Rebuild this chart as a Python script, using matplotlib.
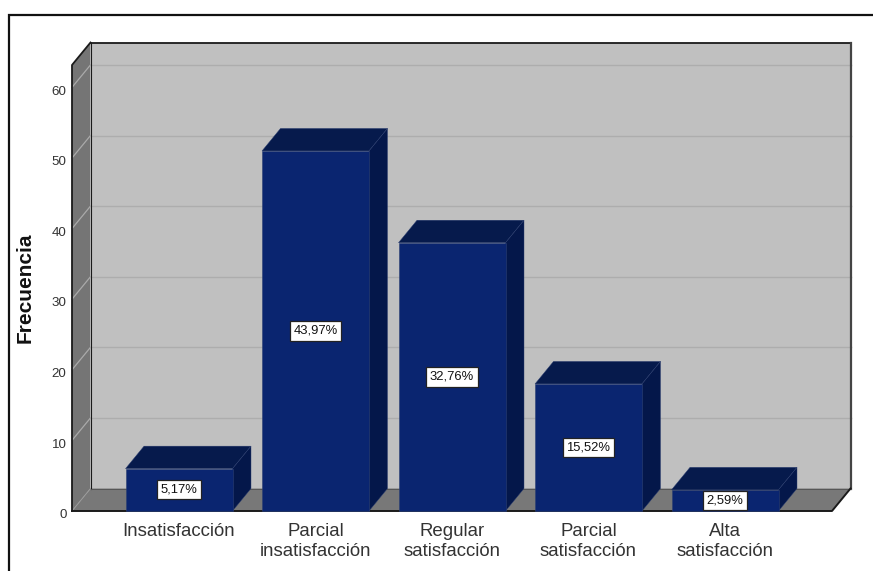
import matplotlib
matplotlib.use("Agg")
import matplotlib.pyplot as plt
from matplotlib.patches import Polygon
from matplotlib.lines import Line2D
from matplotlib.transforms import ScaledTranslation

categorias = ["Insatisfacción", "Parcial\ninsatisfacción", "Regular\nsatisfacción",
              "Parcial\nsatisfacción", "Alta\nsatisfacción"]
frecuencias = [6, 51, 38, 18, 3]
porcentajes = [5.17, 43.97, 32.76, 15.52, 2.59]
yticks = [0, 10, 20, 30, 40, 50, 60]

W, H = 873, 571
plt.rcParams['font.family'] = ['Liberation Sans', 'DejaVu Sans']

fig = plt.figure(figsize=(W / 100, H / 100), dpi=100)
ax = fig.add_axes([72 / W, (H - 511) / H, 760 / W, 446 / H])

# escala: 136.5 px entre barras, 7.06 px por unidad
xmin, xmax = -107 / 136.5, 653 / 136.5
ymin, ymax = 0, 446 / 7.06
dx, dy = 18.5 / 136.5, 22.5 / 7.06
ancho = 107 / 136.5

ax.set_xlim(xmin, xmax)
ax.set_ylim(ymin, ymax)
for s in ax.spines.values():
    s.set_visible(False)
ax.patch.set_visible(False)


def poly(puntos, color, z, edge='none', lw=0):
    ax.add_patch(Polygon(puntos, closed=True, facecolor=color, edgecolor=edge,
                         linewidth=lw, zorder=z, clip_on=False))


# paredes y suelo
poly([(xmin + dx, dy), (xmax + dx, dy), (xmax + dx, ymax + dy), (xmin + dx, ymax + dy)], '#c0c0c0', 1)
poly([(xmin, 0), (xmin + dx, dy), (xmin + dx, ymax + dy), (xmin, ymax)], '#757575', 1)
poly([(xmin, 0), (xmax, 0), (xmax + dx, dy), (xmin + dx, dy)], '#787878', 1)

# rejilla
for t in yticks[1:]:
    ax.plot([xmin + dx, xmax + dx], [t + dy, t + dy], color='#adadad', lw=1.0, zorder=2, clip_on=False)
    ax.plot([xmin, xmin + dx], [t, t + dy], color='#aaaaaa', lw=0.9, zorder=2, clip_on=False)

# contornos de la caja
negro = dict(color='#1a1a1a', zorder=3, clip_on=False, solid_capstyle='projecting')
ax.plot([xmin + dx, xmax + dx], [ymax + dy, ymax + dy], lw=1.3, **negro)
ax.plot([xmax + dx, xmax + dx], [ymax + dy, dy], lw=1.6, color='#444444', zorder=3, clip_on=False)
ax.plot([xmin + dx, xmin + dx], [ymax + dy, dy], lw=0.8, **negro)
ax.plot([xmin + dx, xmax + dx], [dy, dy], lw=0.7, color='#555555', zorder=3, clip_on=False)
ax.plot([xmin, xmin, xmin + dx], [0, ymax, ymax + dy], lw=1.3, **negro)
ax.plot([xmin, xmax, xmax + dx], [0, 0, dy], lw=1.4, **negro)
ax.plot([xmin, xmin + dx], [0, dy], color='#9a9a9a', lw=0.7, zorder=2, clip_on=False)

# barras con cara superior y lateral
pos = list(range(len(categorias)))
ax.bar(pos, frecuencias, width=ancho, color='#0a2570', edgecolor='#2c3f72', linewidth=0.4,
       zorder=5, clip_on=False)
for x, f, p in zip(pos, frecuencias, porcentajes):
    iz, de = x - ancho / 2, x + ancho / 2
    poly([(iz, f), (de, f), (de + dx, f + dy), (iz + dx, f + dy)], '#061a4c', 4, '#2c3f72', 0.3)
    poly([(de, 0), (de + dx, dy), (de + dx, f + dy), (de, f)], '#04174a', 4, '#2c3f72', 0.3)
    ax.text(x, f / 2, f"{p:.2f}%".replace('.', ','), ha='center', va='center', fontsize=9.4,
            color='#111111', zorder=7,
            bbox=dict(boxstyle='square,pad=0.28', facecolor='white', edgecolor='#222222', linewidth=0.9))

ax.set_xticks(pos)
ax.set_xticklabels(categorias, fontsize=13.4, color='#333333', linespacing=1.2)
ax.set_yticks(yticks)
ax.set_yticklabels([str(t) for t in yticks], fontsize=9.6, color='#333333')
ax.tick_params(axis='x', length=0, pad=9)
ax.tick_params(axis='y', length=0, pad=4)
# los numeros del eje quedan un poco por debajo de su linea
baja = ScaledTranslation(0, -2 / 72, fig.dpi_scale_trans)
for lab in ax.get_yticklabels():
    lab.set_transform(lab.get_transform() + baja)
ax.set_ylabel("Frecuencia", fontsize=15, fontweight='bold', color='#111111')
ax.yaxis.set_label_coords((35 - 72) / 760, (511 - 288) / 446)

# marco exterior
fig.add_artist(Line2D([9 / W, 9 / W, 1], [0, (H - 15) / H, (H - 15) / H],
                      color='#111111', lw=1.6, solid_joinstyle='miter'))

fig.savefig("out.png", dpi=100)
